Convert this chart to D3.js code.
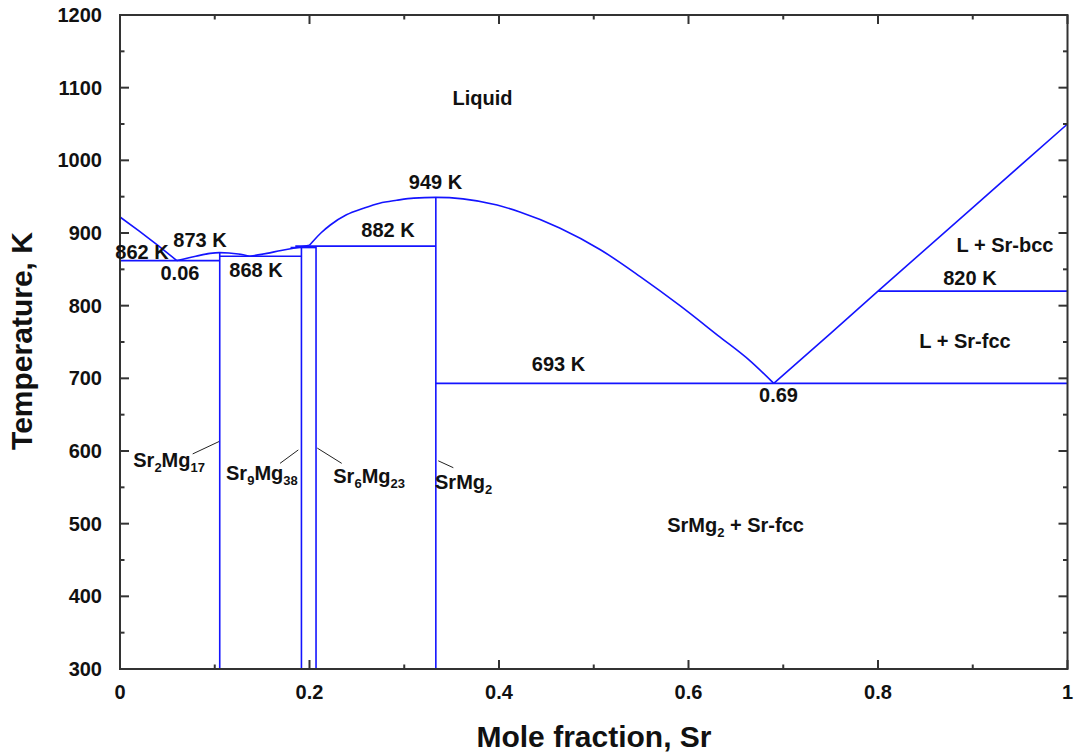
<!DOCTYPE html>
<html>
<head>
<meta charset="utf-8">
<script src="https://cdn.jsdelivr.net/npm/d3@7"></script>
<style>
  html, body { margin: 0; padding: 0; background: #fff; }
  svg text { font-family: "Liberation Sans", Arial, sans-serif; font-weight: bold; fill: #111; }
</style>
</head>
<body>
<svg id="chart" width="1075" height="753"></svg>
<script>
// Mg–Sr phase diagram: temperature (K) against mole fraction of Sr.

// Axis ticks
const xMajorTicks = [0, 0.2, 0.4, 0.6, 0.8, 1];
const xTickLabels = ["0", "0.2", "0.4", "0.6", "0.8", "1"];
const xMinorTicks = [0.1, 0.3, 0.5, 0.7, 0.9];
const yMajorTicks = [300, 400, 500, 600, 700, 800, 900, 1000, 1100, 1200];
const yMinorTicks = [350, 450, 550, 650, 750, 850, 950, 1050, 1150];

// Liquidus branches, [x_Sr, T]
const mgLiquidus = [[0, 922], [0.02, 903], [0.04, 883], [0.06, 862]];
const sr2Mg17Liquidus = [[0.06, 862], [0.08, 868], [0.095, 872], [0.105, 873], [0.115, 872.5], [0.125, 871], [0.137, 868]];
const sr9Mg38Liquidus = [[0.137, 868], [0.155, 872], [0.17, 876], [0.185, 879.5], [0.2, 883]];
const srMg2Liquidus = [[0.2, 883], [0.204, 889], [0.212, 900], [0.222, 911], [0.239, 925], [0.257, 934], [0.274, 941],
  [0.292, 945], [0.31, 948], [0.3333, 949], [0.362, 947], [0.398, 938.5], [0.422, 929], [0.464, 907], [0.507, 877],
  [0.549, 840], [0.591, 800], [0.633, 757], [0.665, 724], [0.69, 693]];
const srLiquidus = [[0.69, 693], [0.75, 762], [0.8, 820], [0.9, 935], [1, 1050]];

// Intermetallic compounds: composition and top of the phase line
const compoundX = [2 / 19, 9 / 47, 6 / 29, 1 / 3];
const compoundTop = [873, 880, 882, 949];

// Invariant reactions: [T, x from, x to]
const isotherms = [
  [862, 0, 2 / 19],
  [868, 2 / 19, 9 / 47],
  [880, 0.18, 6 / 29],
  [882, 0.185, 1 / 3],
  [693, 1 / 3, 1],
  [820, 0.8, 1]
];

// Text labels: [text, x_Sr, T]
const plainLabels = [
  ["Liquid", 0.3826, 1076],
  ["949 K", 0.333, 960],
  ["882 K", 0.2829, 894],
  ["873 K", 0.0844, 881],
  ["862 K", 0.0232, 864],
  ["0.06", 0.0633, 835],
  ["868 K", 0.1435, 839],
  ["L + Sr-bcc", 0.934, 874],
  ["820 K", 0.897, 828],
  ["L + Sr-fcc", 0.8918, 742],
  ["693 K", 0.4628, 710],
  ["0.69", 0.695, 667]
];

// Compound labels with subscripts: [parts, x_Sr, T]
const compoundLabels = [
  [[["Sr", false], ["2", true], ["Mg", false], ["17", true]], 0.014, 578],
  [[["Sr", false], ["9", true], ["Mg", false], ["38", true]], 0.1119, 560],
  [[["Sr", false], ["6", true], ["Mg", false], ["23", true]], 0.2251, 555.5],
  [[["SrMg", false], ["2", true]], 0.3325, 548]
];
const fieldLabel = [[["SrMg", false], ["2", true], [" + Sr-fcc", false]], 0.5775, 488.5];

// Leader lines from compound labels to their phase lines: [x1, T1, x2, T2]
const leaders = [
  [0.0767, 596, 0.1045, 613],
  [0.1689, 583, 0.1882, 601.5],
  [0.2082, 604, 0.2340, 583],
  [0.3359, 586.5, 0.3518, 577]
];

const svg = d3.select("#chart");
const x = d3.scaleLinear().domain([0, 1]).range([120, 1067.5]);
const y = d3.scaleLinear().domain([300, 1200]).range([669, 15]);
const blue = "#1414ff";

// Phase boundaries
const line = d3.line().x(d => x(d[0])).y(d => y(d[1]));
const smooth = d3.line().x(d => x(d[0])).y(d => y(d[1])).curve(d3.curveMonotoneX);
const g = svg.append("g").attr("fill", "none").attr("stroke", blue).attr("stroke-width", 1.6);

[mgLiquidus, srLiquidus].forEach(b => g.append("path").attr("d", line(b)));
[sr2Mg17Liquidus, sr9Mg38Liquidus, srMg2Liquidus].forEach(b => g.append("path").attr("d", smooth(b)));

isotherms.forEach(([t, a, b]) => {
  g.append("line").attr("x1", x(a)).attr("x2", x(b)).attr("y1", y(t)).attr("y2", y(t));
});
compoundX.forEach((cx, i) => {
  g.append("line").attr("x1", x(cx)).attr("x2", x(cx)).attr("y1", y(300)).attr("y2", y(compoundTop[i]));
});

// Leader lines
svg.append("g").attr("stroke", "#222").attr("stroke-width", 1)
  .selectAll("line").data(leaders).join("line")
  .attr("x1", d => x(d[0])).attr("y1", d => y(d[1]))
  .attr("x2", d => x(d[2])).attr("y2", d => y(d[3]));

// Frame
svg.append("rect")
  .attr("x", x(0)).attr("y", y(1200))
  .attr("width", x(1) - x(0)).attr("height", y(300) - y(1200))
  .attr("fill", "none").attr("stroke", "#333").attr("stroke-width", 2);

// Inward ticks on all four sides
const ticks = svg.append("g").attr("stroke", "#333").attr("stroke-width", 2);
function xTick(v, len) {
  ticks.append("line").attr("x1", x(v)).attr("x2", x(v)).attr("y1", y(300)).attr("y2", y(300) - len);
  ticks.append("line").attr("x1", x(v)).attr("x2", x(v)).attr("y1", y(1200)).attr("y2", y(1200) + len);
}
function yTick(v, len) {
  ticks.append("line").attr("x1", x(0)).attr("x2", x(0) + len).attr("y1", y(v)).attr("y2", y(v));
  ticks.append("line").attr("x1", x(1)).attr("x2", x(1) - len).attr("y1", y(v)).attr("y2", y(v));
}
xMajorTicks.forEach(v => xTick(v, 9));
xMinorTicks.forEach(v => xTick(v, 4.5));
yMajorTicks.forEach(v => yTick(v, 9));
yMinorTicks.forEach(v => yTick(v, 4.5));

// Tick labels
svg.append("g").selectAll("text").data(xMajorTicks).join("text")
  .attr("x", d => x(d)).attr("y", 699)
  .attr("text-anchor", "middle").attr("font-size", 20)
  .text((d, i) => xTickLabels[i]);
svg.append("g").selectAll("text").data(yMajorTicks).join("text")
  .attr("x", 102).attr("y", d => y(d) + 7)
  .attr("text-anchor", "end").attr("font-size", 20)
  .text(d => d);

// Axis titles
svg.append("text").attr("x", 594).attr("y", 747)
  .attr("text-anchor", "middle").attr("font-size", 30)
  .text("Mole fraction, Sr");
svg.append("text")
  .attr("transform", "translate(32,341) rotate(-90)")
  .attr("text-anchor", "middle").attr("font-size", 30)
  .text("Temperature, K");

// Region and invariant labels
svg.append("g").selectAll("text").data(plainLabels).join("text")
  .attr("x", d => x(d[1])).attr("y", d => y(d[2]))
  .attr("text-anchor", "middle").attr("font-size", 20)
  .text(d => d[0]);

// Labels with subscripts
function subLabel(parts, px, py) {
  const t = svg.append("text").attr("x", px).attr("y", py).attr("font-size", 20);
  let shifted = false;
  parts.forEach(([s, sub]) => {
    const ts = t.append("tspan").text(s);
    if (sub && !shifted) { ts.attr("font-size", 13).attr("dy", 5); shifted = true; }
    else if (!sub && shifted) { ts.attr("dy", -5); shifted = false; }
    else if (sub) ts.attr("font-size", 13);
  });
  return t;
}
compoundLabels.forEach(([parts, cx, ct]) => subLabel(parts, x(cx), y(ct)));
subLabel(fieldLabel[0], x(fieldLabel[1]), y(fieldLabel[2]));
</script>
</body>
</html>
